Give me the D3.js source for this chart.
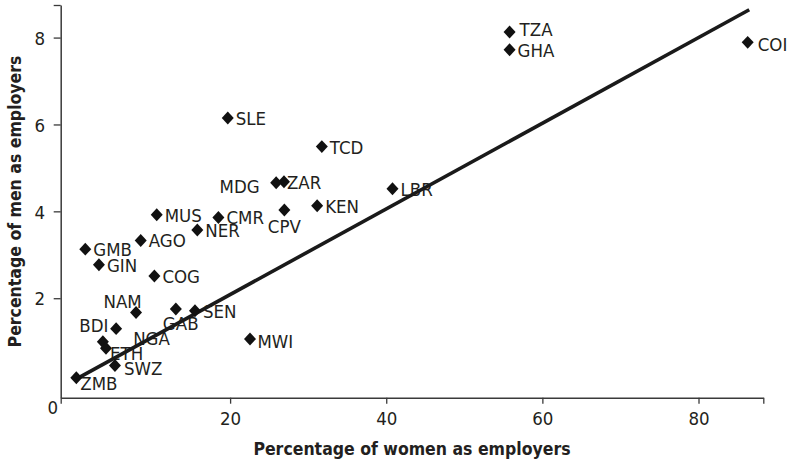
<!DOCTYPE html>
<html>
<head>
<meta charset="utf-8">
<script src="https://cdn.jsdelivr.net/npm/d3@7"></script>
<style>
  html, body { margin: 0; padding: 0; background: #fff; }
  svg { display: block; }
  text { font-family: "DejaVu Sans Condensed", "DejaVu Sans", sans-serif; fill: #231f20; }
</style>
</head>
<body>
<div id="chart"></div>
<script>
// ---- Data ----
const countries = ["SLE","TCD","MDG","ZAR","KEN","CPV","LBR","MUS","CMR","NER","AGO","GMB","GIN","COG",
                   "NAM","GAB","SEN","BDI","NGA","ETH","SWZ","ZMB","MWI","TZA","GHA","COI"];
const womenEmployers = [19.7,31.75,25.9,26.9,31.15,26.95,40.8,10.6,18.5,15.8,8.55,1.45,3.2,10.3,
                        7.95,13.05,15.5,5.4,3.7,4.1,5.25,0.3,22.55,55.8,55.8,86.3];
const menEmployers   = [6.15,5.49,4.66,4.68,4.13,4.03,4.52,3.92,3.86,3.57,3.33,3.13,2.77,2.51,
                        1.67,1.75,1.71,1.30,1.00,0.85,0.45,0.17,1.06,8.13,7.72,7.89];
const trendX = [0.8, 86.5];
const trendY = [0.19, 8.64];
const xTicks = [20, 40, 60, 80];
const yTicks = [2, 4, 6, 8];
const originLabel = "0";
const xTitle = "Percentage of women as employers";
const yTitle = "Percentage of men as employers";

// ---- Label placement (offsets from the marker) ----
const labelPlace = {
  ZAR: {dx: 3, dy: 7}, TZA: {dx: 10, dy: 4.5}, COI: {dx: 10, dy: 9},
  MWI: {dx: 7.5, dy: 9}, SWZ: {dx: 9, dy: 9.5},
  MDG: {dx: -16.5, dy: 10.6, anchor: "end"},
  CPV: {dx: 0, dy: 23, anchor: "middle"},
  NAM: {dx: 5.7, dy: -4.7, anchor: "end"},
  GAB: {dx: -13, dy: 21},
  BDI: {dx: -7.7, dy: 3.3, anchor: "end"},
  NGA: {dx: 30.3, dy: 3.3},
  ETH: {dx: 4, dy: 11.7},
  ZMB: {dx: 4, dy: 12.3}
};

const W = 790, H = 464;
const margin = {left: 60.7, top: 5, right: 26.7, bottom: 66.3};

const svg = d3.select("#chart").append("svg").attr("width", W).attr("height", H);

const xDomain = [-1.7, 88.3];
const yDomain = [-0.29, 8.75];
const x = d3.scaleLinear().domain(xDomain).range([margin.left, W - margin.right]);
const y = d3.scaleLinear().domain(yDomain).range([H - margin.bottom, margin.top]);

const axisColor = "#3a3a3a";
const fontStack = '"DejaVu Sans Condensed", "DejaVu Sans", sans-serif';

// X axis
const xAxis = d3.axisBottom(x)
  .tickValues([xDomain[0], ...xTicks, xDomain[1]])
  .tickFormat(d => xTicks.includes(d) ? d3.format("d")(d) : "")
  .tickSize(6).tickSizeOuter(0).tickPadding(8);
const gx = svg.append("g").attr("transform", `translate(0,${y(yDomain[0])})`).call(xAxis);

// Y axis
const yAxis = d3.axisLeft(y)
  .tickValues([...yTicks, yDomain[1]])
  .tickFormat(d => yTicks.includes(d) ? d3.format("d")(d) : "")
  .tickSize(7).tickSizeOuter(0).tickPadding(8.5);
const gy = svg.append("g").attr("transform", `translate(${x(xDomain[0])},0)`).call(yAxis);

[gx, gy].forEach(g => {
  g.select(".domain").attr("stroke", axisColor).attr("stroke-width", 1.5);
  g.selectAll(".tick line").attr("stroke", axisColor).attr("stroke-width", 1.3);
  g.selectAll(".tick text").attr("font-size", 18.5).attr("fill", "#231f20")
    .attr("font-family", fontStack);
});
gy.selectAll(".tick text").attr("dy", "0.36em");

// corner label
svg.append("text")
  .attr("x", x(xDomain[0]) - 8).attr("y", y(yDomain[0]) + 16.5)
  .attr("text-anchor", "middle").attr("font-size", 18.5)
  .text(originLabel);

// Axis titles
svg.append("text")
  .attr("x", 412).attr("y", 455)
  .attr("text-anchor", "middle").attr("font-size", 17.5).attr("font-weight", "bold")
  .text(xTitle);
svg.append("text")
  .attr("transform", `translate(20.5,201.5) rotate(-90)`)
  .attr("text-anchor", "middle").attr("font-size", 17.5).attr("font-weight", "bold")
  .text(yTitle);

const pts = countries.map((c, i) => ({c, xv: womenEmployers[i], yv: menEmployers[i]}));

// Labels
svg.append("g").selectAll("text").data(pts).join("text")
  .attr("x", d => x(d.xv) + (labelPlace[d.c] ? labelPlace[d.c].dx : 8))
  .attr("y", d => y(d.yv) + (labelPlace[d.c] ? labelPlace[d.c].dy : 7))
  .attr("text-anchor", d => (labelPlace[d.c] && labelPlace[d.c].anchor) || "start")
  .attr("font-size", 18.5)
  .text(d => d.c);

// Trend line
svg.append("line")
  .attr("x1", x(trendX[0])).attr("y1", y(trendY[0]))
  .attr("x2", x(trendX[1])).attr("y2", y(trendY[1]))
  .attr("stroke", "#1a1a1a").attr("stroke-width", 3.6).attr("stroke-linecap", "butt");

// Diamonds (slightly taller than wide, as in the reference)
const diamondType = {
  draw(ctx, size) {
    const hw = Math.sqrt(size) / 2, hh = hw * 1.08;
    ctx.moveTo(0, -hh); ctx.lineTo(hw, 0); ctx.lineTo(0, hh); ctx.lineTo(-hw, 0); ctx.closePath();
  }
};
const diamond = d3.symbol().type(diamondType).size(144);
svg.append("g").selectAll("path").data(pts).join("path")
  .attr("d", diamond)
  .attr("transform", d => `translate(${x(d.xv)},${y(d.yv)})`)
  .attr("fill", "#111");
</script>
</body>
</html>
